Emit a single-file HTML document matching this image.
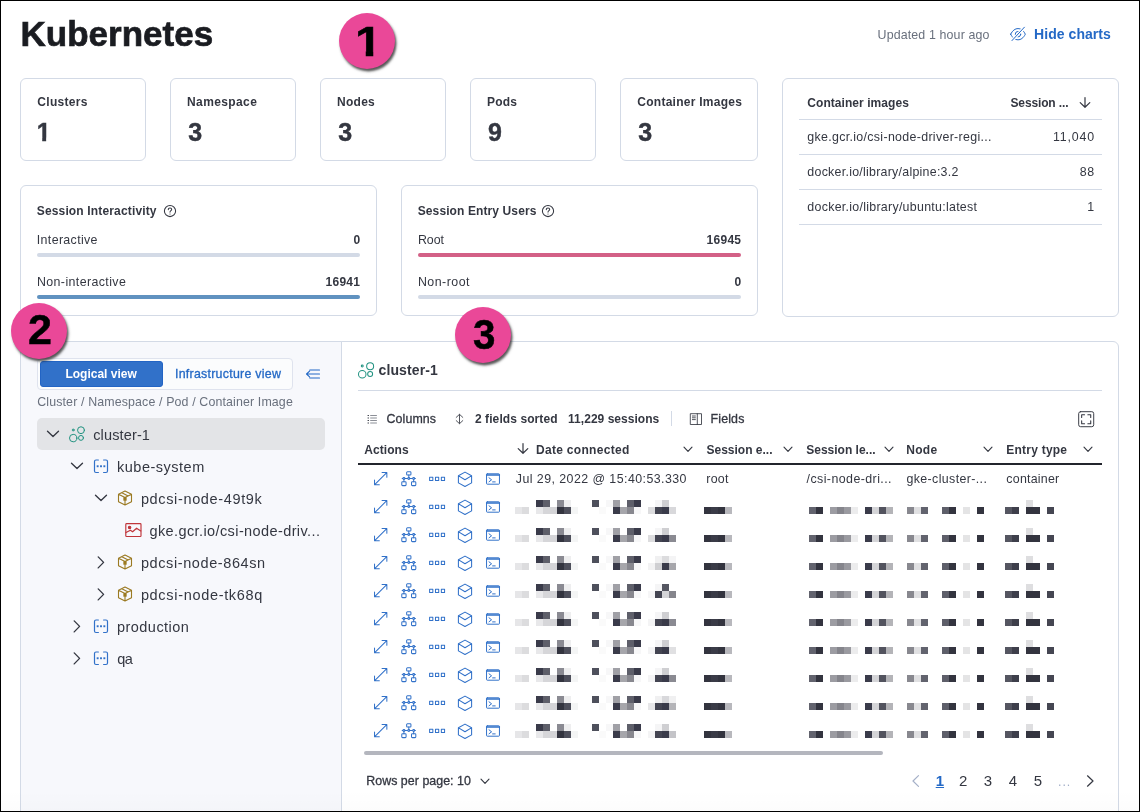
<!DOCTYPE html>
<html lang="en"><head><meta charset="utf-8"><title>Kubernetes</title>
<style>
html,body{margin:0;padding:0}
body{width:1140px;height:812px;position:relative;overflow:hidden;background:#fff;font-family:"Liberation Sans",sans-serif;}
.b,.i,.t,.bd{position:absolute}
.t{line-height:1;white-space:nowrap}
.i{overflow:visible}
.bd{width:56px;height:56px;border-radius:50%;background:#ea4898;box-shadow:1.5px 2.5px 2.5px rgba(30,30,30,.75);color:#000;font-weight:700;font-size:42px;}
.dg{-webkit-text-stroke:0.5px #000;position:absolute;display:block;line-height:1;height:1em;transform-origin:0 0}
.one{clip-path:polygon(0 0,100% 0,100% 71.5%,68% 71.5%,68% 100%,40% 100%,40% 71.5%,0 71.5%)}
#frame{position:absolute;left:0;top:0;width:1140px;height:812px;box-sizing:border-box;border:1px solid #000;}
#fade{position:absolute;left:1px;top:790px;width:1138px;height:21px;background:linear-gradient(rgba(0,0,0,0),rgba(0,0,0,.012));}
</style></head>
<body>
<div class="b" style="left:20px;top:78px;width:126px;height:83px;background:#fff;border:1px solid #d3dae6;box-sizing:border-box;border-radius:6px;"></div>
<div class="b" style="left:170px;top:78px;width:126px;height:83px;background:#fff;border:1px solid #d3dae6;box-sizing:border-box;border-radius:6px;"></div>
<div class="b" style="left:320px;top:78px;width:126px;height:83px;background:#fff;border:1px solid #d3dae6;box-sizing:border-box;border-radius:6px;"></div>
<div class="b" style="left:470px;top:78px;width:126px;height:83px;background:#fff;border:1px solid #d3dae6;box-sizing:border-box;border-radius:6px;"></div>
<div class="b" style="left:620px;top:78px;width:138px;height:83px;background:#fff;border:1px solid #d3dae6;box-sizing:border-box;border-radius:6px;"></div>
<div class="b" style="left:20px;top:185px;width:357px;height:131px;background:#fff;border:1px solid #d3dae6;box-sizing:border-box;border-radius:6px;"></div>
<div class="b" style="left:37px;top:253px;width:323px;height:4px;background:#d3dae6;border-radius:2px;"></div>
<div class="b" style="left:37px;top:295px;width:323px;height:4px;background:#6092c0;border-radius:2px;"></div>
<div class="b" style="left:401px;top:185px;width:357px;height:131px;background:#fff;border:1px solid #d3dae6;box-sizing:border-box;border-radius:6px;"></div>
<div class="b" style="left:418px;top:253px;width:323px;height:4px;background:#d36086;border-radius:2px;"></div>
<div class="b" style="left:418px;top:295px;width:323px;height:4px;background:#d3dae6;border-radius:2px;"></div>
<div class="b" style="left:782px;top:78px;width:337px;height:239px;background:#fff;border:1px solid #d3dae6;box-sizing:border-box;border-radius:6px;"></div>
<div class="b" style="left:799px;top:119px;width:303px;height:1px;background:#d3dae6;"></div>
<div class="b" style="left:799px;top:154px;width:303px;height:1px;background:#d3dae6;"></div>
<div class="b" style="left:799px;top:189px;width:303px;height:1px;background:#d3dae6;"></div>
<div class="b" style="left:799px;top:224px;width:303px;height:1px;background:#d3dae6;"></div>
<div class="b" style="left:20px;top:341px;width:322px;height:489px;background:#f7f8fc;border:1px solid #d3dae6;box-sizing:border-box;"></div>
<div class="b" style="left:341px;top:341px;width:778px;height:489px;background:#fff;border:1px solid #d3dae6;box-sizing:border-box;border-top-right-radius:6px;"></div>
<div class="b" style="left:37px;top:358px;width:256px;height:32px;background:#fbfcfd;border:1px solid #dfe3ee;box-sizing:border-box;border-radius:4px;"></div>
<div class="b" style="left:40px;top:361px;width:123px;height:26px;background:#3171c9;border:1px solid #2264c4;box-sizing:border-box;border-radius:3px;"></div>
<div class="b" style="left:37px;top:418px;width:288px;height:32px;background:#e3e4e7;border-radius:5px;"></div>
<div class="b" style="left:358px;top:390px;width:744px;height:1px;background:#d3dae6;"></div>
<div class="b" style="left:671px;top:411px;width:1px;height:15px;background:#d3dae6;"></div>
<div class="b" style="left:358px;top:463px;width:744px;height:2px;background:#23252d;"></div>
<svg class="i" style="left:0;top:0" width="1140" height="812" shape-rendering="crispEdges"><rect x="536" y="500" width="7" height="7" fill="#3a3b4a"/><rect x="543" y="500" width="7" height="7" fill="#5e5f6a"/><rect x="557" y="500" width="7" height="7" fill="#8a8a92"/><rect x="564" y="500" width="7" height="7" fill="#eeeeef"/><rect x="592" y="500" width="7" height="7" fill="#4e505c"/><rect x="606" y="500" width="7" height="7" fill="#f7f7f8"/><rect x="613" y="500" width="7" height="7" fill="#a0a0a6"/><rect x="627" y="500" width="7" height="7" fill="#5e5f6a"/><rect x="634" y="500" width="7" height="7" fill="#3a3b4a"/><rect x="1026" y="500" width="7" height="7" fill="#dedee0"/><rect x="655" y="500" width="7" height="7" fill="#f5f5f6"/><rect x="662" y="500" width="7" height="7" fill="#cfcfd2"/><rect x="515" y="507" width="7" height="7" fill="#e6e6e8"/><rect x="522" y="507" width="7" height="7" fill="#dcdcde"/><rect x="536" y="507" width="7" height="7" fill="#e8e8ea"/><rect x="543" y="507" width="7" height="7" fill="#d6d6d9"/><rect x="550" y="507" width="7" height="7" fill="#d4d4d7"/><rect x="557" y="507" width="7" height="7" fill="#33343f"/><rect x="564" y="507" width="7" height="7" fill="#4e4f5b"/><rect x="571" y="507" width="7" height="7" fill="#f4f5f5"/><rect x="599" y="507" width="7" height="7" fill="#fafafa"/><rect x="613" y="507" width="7" height="7" fill="#3a3b4a"/><rect x="620" y="507" width="7" height="7" fill="#a6a6ab"/><rect x="627" y="507" width="7" height="7" fill="#88888f"/><rect x="634" y="507" width="7" height="7" fill="#f7f7f8"/><rect x="704" y="507" width="7" height="7" fill="#33343f"/><rect x="711" y="507" width="7" height="7" fill="#3a3b47"/><rect x="718" y="507" width="7" height="7" fill="#33343f"/><rect x="725" y="507" width="7" height="7" fill="#b8b8bd"/><rect x="809" y="507" width="7" height="7" fill="#62636e"/><rect x="816" y="507" width="7" height="7" fill="#33343f"/><rect x="830" y="507" width="7" height="7" fill="#9c9ca2"/><rect x="837" y="507" width="7" height="7" fill="#85858c"/><rect x="844" y="507" width="7" height="7" fill="#9a9aa0"/><rect x="851" y="507" width="7" height="7" fill="#ececed"/><rect x="865" y="507" width="7" height="7" fill="#3a3b4a"/><rect x="872" y="507" width="7" height="7" fill="#d4d4d7"/><rect x="879" y="507" width="7" height="7" fill="#52535e"/><rect x="886" y="507" width="7" height="7" fill="#b4b4b8"/><rect x="907" y="507" width="7" height="7" fill="#88888f"/><rect x="914" y="507" width="7" height="7" fill="#e0e0e2"/><rect x="921" y="507" width="7" height="7" fill="#62636e"/><rect x="942" y="507" width="7" height="7" fill="#5e5f6a"/><rect x="949" y="507" width="7" height="7" fill="#33343f"/><rect x="963" y="507" width="7" height="7" fill="#e4e4e5"/><rect x="977" y="507" width="7" height="7" fill="#33343f"/><rect x="1005" y="507" width="7" height="7" fill="#555661"/><rect x="1012" y="507" width="7" height="7" fill="#3e3f4b"/><rect x="1026" y="507" width="7" height="7" fill="#33343f"/><rect x="1033" y="507" width="7" height="7" fill="#33343f"/><rect x="1047" y="507" width="7" height="7" fill="#454652"/><rect x="648" y="507" width="7" height="7" fill="#dcdcde"/><rect x="655" y="507" width="7" height="7" fill="#444552"/><rect x="662" y="507" width="7" height="7" fill="#3a3b4a"/><rect x="669" y="507" width="7" height="7" fill="#d8d8db"/><rect x="536" y="528" width="7" height="7" fill="#3a3b4a"/><rect x="543" y="528" width="7" height="7" fill="#5e5f6a"/><rect x="557" y="528" width="7" height="7" fill="#8a8a92"/><rect x="564" y="528" width="7" height="7" fill="#eeeeef"/><rect x="592" y="528" width="7" height="7" fill="#4e505c"/><rect x="606" y="528" width="7" height="7" fill="#f7f7f8"/><rect x="613" y="528" width="7" height="7" fill="#a0a0a6"/><rect x="627" y="528" width="7" height="7" fill="#5e5f6a"/><rect x="634" y="528" width="7" height="7" fill="#3a3b4a"/><rect x="1026" y="528" width="7" height="7" fill="#dedee0"/><rect x="655" y="528" width="7" height="7" fill="#f5f5f6"/><rect x="662" y="528" width="7" height="7" fill="#cfcfd2"/><rect x="515" y="535" width="7" height="7" fill="#e6e6e8"/><rect x="522" y="535" width="7" height="7" fill="#dcdcde"/><rect x="536" y="535" width="7" height="7" fill="#e8e8ea"/><rect x="543" y="535" width="7" height="7" fill="#d6d6d9"/><rect x="550" y="535" width="7" height="7" fill="#d4d4d7"/><rect x="557" y="535" width="7" height="7" fill="#33343f"/><rect x="564" y="535" width="7" height="7" fill="#4e4f5b"/><rect x="571" y="535" width="7" height="7" fill="#f4f5f5"/><rect x="599" y="535" width="7" height="7" fill="#fafafa"/><rect x="613" y="535" width="7" height="7" fill="#3a3b4a"/><rect x="620" y="535" width="7" height="7" fill="#a6a6ab"/><rect x="627" y="535" width="7" height="7" fill="#88888f"/><rect x="634" y="535" width="7" height="7" fill="#f7f7f8"/><rect x="704" y="535" width="7" height="7" fill="#33343f"/><rect x="711" y="535" width="7" height="7" fill="#3a3b47"/><rect x="718" y="535" width="7" height="7" fill="#33343f"/><rect x="725" y="535" width="7" height="7" fill="#b8b8bd"/><rect x="809" y="535" width="7" height="7" fill="#62636e"/><rect x="816" y="535" width="7" height="7" fill="#33343f"/><rect x="830" y="535" width="7" height="7" fill="#9c9ca2"/><rect x="837" y="535" width="7" height="7" fill="#85858c"/><rect x="844" y="535" width="7" height="7" fill="#9a9aa0"/><rect x="851" y="535" width="7" height="7" fill="#ececed"/><rect x="865" y="535" width="7" height="7" fill="#3a3b4a"/><rect x="872" y="535" width="7" height="7" fill="#d4d4d7"/><rect x="879" y="535" width="7" height="7" fill="#52535e"/><rect x="886" y="535" width="7" height="7" fill="#b4b4b8"/><rect x="907" y="535" width="7" height="7" fill="#88888f"/><rect x="914" y="535" width="7" height="7" fill="#e0e0e2"/><rect x="921" y="535" width="7" height="7" fill="#62636e"/><rect x="942" y="535" width="7" height="7" fill="#5e5f6a"/><rect x="949" y="535" width="7" height="7" fill="#33343f"/><rect x="963" y="535" width="7" height="7" fill="#e4e4e5"/><rect x="977" y="535" width="7" height="7" fill="#33343f"/><rect x="1005" y="535" width="7" height="7" fill="#555661"/><rect x="1012" y="535" width="7" height="7" fill="#3e3f4b"/><rect x="1026" y="535" width="7" height="7" fill="#33343f"/><rect x="1033" y="535" width="7" height="7" fill="#33343f"/><rect x="1047" y="535" width="7" height="7" fill="#454652"/><rect x="648" y="535" width="7" height="7" fill="#dcdcde"/><rect x="655" y="535" width="7" height="7" fill="#444552"/><rect x="662" y="535" width="7" height="7" fill="#3a3b4a"/><rect x="669" y="535" width="7" height="7" fill="#8a8a92"/><rect x="536" y="556" width="7" height="7" fill="#3a3b4a"/><rect x="543" y="556" width="7" height="7" fill="#5e5f6a"/><rect x="557" y="556" width="7" height="7" fill="#8a8a92"/><rect x="564" y="556" width="7" height="7" fill="#eeeeef"/><rect x="592" y="556" width="7" height="7" fill="#4e505c"/><rect x="606" y="556" width="7" height="7" fill="#f7f7f8"/><rect x="613" y="556" width="7" height="7" fill="#a0a0a6"/><rect x="627" y="556" width="7" height="7" fill="#5e5f6a"/><rect x="634" y="556" width="7" height="7" fill="#3a3b4a"/><rect x="1026" y="556" width="7" height="7" fill="#dedee0"/><rect x="655" y="556" width="7" height="7" fill="#f0f0f1"/><rect x="662" y="556" width="7" height="7" fill="#dcdcde"/><rect x="669" y="556" width="7" height="7" fill="#f4f4f5"/><rect x="515" y="563" width="7" height="7" fill="#e6e6e8"/><rect x="522" y="563" width="7" height="7" fill="#dcdcde"/><rect x="536" y="563" width="7" height="7" fill="#e8e8ea"/><rect x="543" y="563" width="7" height="7" fill="#d6d6d9"/><rect x="550" y="563" width="7" height="7" fill="#d4d4d7"/><rect x="557" y="563" width="7" height="7" fill="#33343f"/><rect x="564" y="563" width="7" height="7" fill="#4e4f5b"/><rect x="571" y="563" width="7" height="7" fill="#f4f5f5"/><rect x="599" y="563" width="7" height="7" fill="#fafafa"/><rect x="613" y="563" width="7" height="7" fill="#3a3b4a"/><rect x="620" y="563" width="7" height="7" fill="#a6a6ab"/><rect x="627" y="563" width="7" height="7" fill="#88888f"/><rect x="634" y="563" width="7" height="7" fill="#f7f7f8"/><rect x="704" y="563" width="7" height="7" fill="#33343f"/><rect x="711" y="563" width="7" height="7" fill="#3a3b47"/><rect x="718" y="563" width="7" height="7" fill="#33343f"/><rect x="725" y="563" width="7" height="7" fill="#b8b8bd"/><rect x="809" y="563" width="7" height="7" fill="#62636e"/><rect x="816" y="563" width="7" height="7" fill="#33343f"/><rect x="830" y="563" width="7" height="7" fill="#9c9ca2"/><rect x="837" y="563" width="7" height="7" fill="#85858c"/><rect x="844" y="563" width="7" height="7" fill="#9a9aa0"/><rect x="851" y="563" width="7" height="7" fill="#ececed"/><rect x="865" y="563" width="7" height="7" fill="#3a3b4a"/><rect x="872" y="563" width="7" height="7" fill="#d4d4d7"/><rect x="879" y="563" width="7" height="7" fill="#52535e"/><rect x="886" y="563" width="7" height="7" fill="#b4b4b8"/><rect x="907" y="563" width="7" height="7" fill="#88888f"/><rect x="914" y="563" width="7" height="7" fill="#e0e0e2"/><rect x="921" y="563" width="7" height="7" fill="#62636e"/><rect x="942" y="563" width="7" height="7" fill="#5e5f6a"/><rect x="949" y="563" width="7" height="7" fill="#33343f"/><rect x="963" y="563" width="7" height="7" fill="#e4e4e5"/><rect x="977" y="563" width="7" height="7" fill="#33343f"/><rect x="1005" y="563" width="7" height="7" fill="#555661"/><rect x="1012" y="563" width="7" height="7" fill="#3e3f4b"/><rect x="1026" y="563" width="7" height="7" fill="#33343f"/><rect x="1033" y="563" width="7" height="7" fill="#33343f"/><rect x="1047" y="563" width="7" height="7" fill="#454652"/><rect x="648" y="563" width="7" height="7" fill="#f2f2f3"/><rect x="655" y="563" width="7" height="7" fill="#cfcfd2"/><rect x="662" y="563" width="7" height="7" fill="#3a3b4a"/><rect x="669" y="563" width="7" height="7" fill="#a6a6ab"/><rect x="536" y="584" width="7" height="7" fill="#3a3b4a"/><rect x="543" y="584" width="7" height="7" fill="#5e5f6a"/><rect x="557" y="584" width="7" height="7" fill="#8a8a92"/><rect x="564" y="584" width="7" height="7" fill="#eeeeef"/><rect x="592" y="584" width="7" height="7" fill="#4e505c"/><rect x="606" y="584" width="7" height="7" fill="#f7f7f8"/><rect x="613" y="584" width="7" height="7" fill="#a0a0a6"/><rect x="627" y="584" width="7" height="7" fill="#5e5f6a"/><rect x="634" y="584" width="7" height="7" fill="#3a3b4a"/><rect x="1026" y="584" width="7" height="7" fill="#dedee0"/><rect x="655" y="584" width="7" height="7" fill="#f5f5f6"/><rect x="662" y="584" width="7" height="7" fill="#555661"/><rect x="515" y="591" width="7" height="7" fill="#e6e6e8"/><rect x="522" y="591" width="7" height="7" fill="#dcdcde"/><rect x="536" y="591" width="7" height="7" fill="#e8e8ea"/><rect x="543" y="591" width="7" height="7" fill="#d6d6d9"/><rect x="550" y="591" width="7" height="7" fill="#d4d4d7"/><rect x="557" y="591" width="7" height="7" fill="#33343f"/><rect x="564" y="591" width="7" height="7" fill="#4e4f5b"/><rect x="571" y="591" width="7" height="7" fill="#f4f5f5"/><rect x="599" y="591" width="7" height="7" fill="#fafafa"/><rect x="613" y="591" width="7" height="7" fill="#3a3b4a"/><rect x="620" y="591" width="7" height="7" fill="#a6a6ab"/><rect x="627" y="591" width="7" height="7" fill="#88888f"/><rect x="634" y="591" width="7" height="7" fill="#f7f7f8"/><rect x="704" y="591" width="7" height="7" fill="#33343f"/><rect x="711" y="591" width="7" height="7" fill="#3a3b47"/><rect x="718" y="591" width="7" height="7" fill="#33343f"/><rect x="725" y="591" width="7" height="7" fill="#b8b8bd"/><rect x="809" y="591" width="7" height="7" fill="#62636e"/><rect x="816" y="591" width="7" height="7" fill="#33343f"/><rect x="830" y="591" width="7" height="7" fill="#9c9ca2"/><rect x="837" y="591" width="7" height="7" fill="#85858c"/><rect x="844" y="591" width="7" height="7" fill="#9a9aa0"/><rect x="851" y="591" width="7" height="7" fill="#ececed"/><rect x="865" y="591" width="7" height="7" fill="#3a3b4a"/><rect x="872" y="591" width="7" height="7" fill="#d4d4d7"/><rect x="879" y="591" width="7" height="7" fill="#52535e"/><rect x="886" y="591" width="7" height="7" fill="#b4b4b8"/><rect x="907" y="591" width="7" height="7" fill="#88888f"/><rect x="914" y="591" width="7" height="7" fill="#e0e0e2"/><rect x="921" y="591" width="7" height="7" fill="#62636e"/><rect x="942" y="591" width="7" height="7" fill="#5e5f6a"/><rect x="949" y="591" width="7" height="7" fill="#33343f"/><rect x="963" y="591" width="7" height="7" fill="#e4e4e5"/><rect x="977" y="591" width="7" height="7" fill="#33343f"/><rect x="1005" y="591" width="7" height="7" fill="#555661"/><rect x="1012" y="591" width="7" height="7" fill="#3e3f4b"/><rect x="1026" y="591" width="7" height="7" fill="#33343f"/><rect x="1033" y="591" width="7" height="7" fill="#33343f"/><rect x="1047" y="591" width="7" height="7" fill="#454652"/><rect x="648" y="591" width="7" height="7" fill="#f6f6f7"/><rect x="655" y="591" width="7" height="7" fill="#444552"/><rect x="662" y="591" width="7" height="7" fill="#d4d4d7"/><rect x="669" y="591" width="7" height="7" fill="#85858c"/><rect x="536" y="612" width="7" height="7" fill="#3a3b4a"/><rect x="543" y="612" width="7" height="7" fill="#5e5f6a"/><rect x="557" y="612" width="7" height="7" fill="#8a8a92"/><rect x="564" y="612" width="7" height="7" fill="#eeeeef"/><rect x="592" y="612" width="7" height="7" fill="#4e505c"/><rect x="606" y="612" width="7" height="7" fill="#f7f7f8"/><rect x="613" y="612" width="7" height="7" fill="#a0a0a6"/><rect x="627" y="612" width="7" height="7" fill="#5e5f6a"/><rect x="634" y="612" width="7" height="7" fill="#3a3b4a"/><rect x="1026" y="612" width="7" height="7" fill="#dedee0"/><rect x="655" y="612" width="7" height="7" fill="#f5f5f6"/><rect x="662" y="612" width="7" height="7" fill="#cfcfd2"/><rect x="515" y="619" width="7" height="7" fill="#e6e6e8"/><rect x="522" y="619" width="7" height="7" fill="#dcdcde"/><rect x="536" y="619" width="7" height="7" fill="#e8e8ea"/><rect x="543" y="619" width="7" height="7" fill="#d6d6d9"/><rect x="550" y="619" width="7" height="7" fill="#d4d4d7"/><rect x="557" y="619" width="7" height="7" fill="#33343f"/><rect x="564" y="619" width="7" height="7" fill="#4e4f5b"/><rect x="571" y="619" width="7" height="7" fill="#f4f5f5"/><rect x="599" y="619" width="7" height="7" fill="#fafafa"/><rect x="613" y="619" width="7" height="7" fill="#3a3b4a"/><rect x="620" y="619" width="7" height="7" fill="#a6a6ab"/><rect x="627" y="619" width="7" height="7" fill="#88888f"/><rect x="634" y="619" width="7" height="7" fill="#f7f7f8"/><rect x="704" y="619" width="7" height="7" fill="#33343f"/><rect x="711" y="619" width="7" height="7" fill="#3a3b47"/><rect x="718" y="619" width="7" height="7" fill="#33343f"/><rect x="725" y="619" width="7" height="7" fill="#b8b8bd"/><rect x="809" y="619" width="7" height="7" fill="#62636e"/><rect x="816" y="619" width="7" height="7" fill="#33343f"/><rect x="830" y="619" width="7" height="7" fill="#9c9ca2"/><rect x="837" y="619" width="7" height="7" fill="#85858c"/><rect x="844" y="619" width="7" height="7" fill="#9a9aa0"/><rect x="851" y="619" width="7" height="7" fill="#ececed"/><rect x="865" y="619" width="7" height="7" fill="#3a3b4a"/><rect x="872" y="619" width="7" height="7" fill="#d4d4d7"/><rect x="879" y="619" width="7" height="7" fill="#52535e"/><rect x="886" y="619" width="7" height="7" fill="#b4b4b8"/><rect x="907" y="619" width="7" height="7" fill="#88888f"/><rect x="914" y="619" width="7" height="7" fill="#e0e0e2"/><rect x="921" y="619" width="7" height="7" fill="#62636e"/><rect x="942" y="619" width="7" height="7" fill="#5e5f6a"/><rect x="949" y="619" width="7" height="7" fill="#33343f"/><rect x="963" y="619" width="7" height="7" fill="#e4e4e5"/><rect x="977" y="619" width="7" height="7" fill="#33343f"/><rect x="1005" y="619" width="7" height="7" fill="#555661"/><rect x="1012" y="619" width="7" height="7" fill="#3e3f4b"/><rect x="1026" y="619" width="7" height="7" fill="#33343f"/><rect x="1033" y="619" width="7" height="7" fill="#33343f"/><rect x="1047" y="619" width="7" height="7" fill="#454652"/><rect x="648" y="619" width="7" height="7" fill="#f4f4f5"/><rect x="655" y="619" width="7" height="7" fill="#444552"/><rect x="662" y="619" width="7" height="7" fill="#3a3b4a"/><rect x="669" y="619" width="7" height="7" fill="#8a8a92"/><rect x="536" y="640" width="7" height="7" fill="#3a3b4a"/><rect x="543" y="640" width="7" height="7" fill="#5e5f6a"/><rect x="557" y="640" width="7" height="7" fill="#8a8a92"/><rect x="564" y="640" width="7" height="7" fill="#eeeeef"/><rect x="592" y="640" width="7" height="7" fill="#4e505c"/><rect x="606" y="640" width="7" height="7" fill="#f7f7f8"/><rect x="613" y="640" width="7" height="7" fill="#a0a0a6"/><rect x="627" y="640" width="7" height="7" fill="#5e5f6a"/><rect x="634" y="640" width="7" height="7" fill="#3a3b4a"/><rect x="1026" y="640" width="7" height="7" fill="#dedee0"/><rect x="655" y="640" width="7" height="7" fill="#f5f5f6"/><rect x="662" y="640" width="7" height="7" fill="#cfcfd2"/><rect x="515" y="647" width="7" height="7" fill="#e6e6e8"/><rect x="522" y="647" width="7" height="7" fill="#dcdcde"/><rect x="536" y="647" width="7" height="7" fill="#e8e8ea"/><rect x="543" y="647" width="7" height="7" fill="#d6d6d9"/><rect x="550" y="647" width="7" height="7" fill="#d4d4d7"/><rect x="557" y="647" width="7" height="7" fill="#33343f"/><rect x="564" y="647" width="7" height="7" fill="#4e4f5b"/><rect x="571" y="647" width="7" height="7" fill="#f4f5f5"/><rect x="599" y="647" width="7" height="7" fill="#fafafa"/><rect x="613" y="647" width="7" height="7" fill="#3a3b4a"/><rect x="620" y="647" width="7" height="7" fill="#a6a6ab"/><rect x="627" y="647" width="7" height="7" fill="#88888f"/><rect x="634" y="647" width="7" height="7" fill="#f7f7f8"/><rect x="704" y="647" width="7" height="7" fill="#33343f"/><rect x="711" y="647" width="7" height="7" fill="#3a3b47"/><rect x="718" y="647" width="7" height="7" fill="#33343f"/><rect x="725" y="647" width="7" height="7" fill="#b8b8bd"/><rect x="809" y="647" width="7" height="7" fill="#62636e"/><rect x="816" y="647" width="7" height="7" fill="#33343f"/><rect x="830" y="647" width="7" height="7" fill="#9c9ca2"/><rect x="837" y="647" width="7" height="7" fill="#85858c"/><rect x="844" y="647" width="7" height="7" fill="#9a9aa0"/><rect x="851" y="647" width="7" height="7" fill="#ececed"/><rect x="865" y="647" width="7" height="7" fill="#3a3b4a"/><rect x="872" y="647" width="7" height="7" fill="#d4d4d7"/><rect x="879" y="647" width="7" height="7" fill="#52535e"/><rect x="886" y="647" width="7" height="7" fill="#b4b4b8"/><rect x="907" y="647" width="7" height="7" fill="#88888f"/><rect x="914" y="647" width="7" height="7" fill="#e0e0e2"/><rect x="921" y="647" width="7" height="7" fill="#62636e"/><rect x="942" y="647" width="7" height="7" fill="#5e5f6a"/><rect x="949" y="647" width="7" height="7" fill="#33343f"/><rect x="963" y="647" width="7" height="7" fill="#e4e4e5"/><rect x="977" y="647" width="7" height="7" fill="#33343f"/><rect x="1005" y="647" width="7" height="7" fill="#555661"/><rect x="1012" y="647" width="7" height="7" fill="#3e3f4b"/><rect x="1026" y="647" width="7" height="7" fill="#33343f"/><rect x="1033" y="647" width="7" height="7" fill="#33343f"/><rect x="1047" y="647" width="7" height="7" fill="#454652"/><rect x="648" y="647" width="7" height="7" fill="#f4f4f5"/><rect x="655" y="647" width="7" height="7" fill="#444552"/><rect x="662" y="647" width="7" height="7" fill="#3a3b4a"/><rect x="669" y="647" width="7" height="7" fill="#e0e0e2"/><rect x="536" y="668" width="7" height="7" fill="#3a3b4a"/><rect x="543" y="668" width="7" height="7" fill="#5e5f6a"/><rect x="557" y="668" width="7" height="7" fill="#8a8a92"/><rect x="564" y="668" width="7" height="7" fill="#eeeeef"/><rect x="592" y="668" width="7" height="7" fill="#4e505c"/><rect x="606" y="668" width="7" height="7" fill="#f7f7f8"/><rect x="613" y="668" width="7" height="7" fill="#a0a0a6"/><rect x="627" y="668" width="7" height="7" fill="#5e5f6a"/><rect x="634" y="668" width="7" height="7" fill="#3a3b4a"/><rect x="1026" y="668" width="7" height="7" fill="#dedee0"/><rect x="655" y="668" width="7" height="7" fill="#f5f5f6"/><rect x="662" y="668" width="7" height="7" fill="#cfcfd2"/><rect x="515" y="675" width="7" height="7" fill="#e6e6e8"/><rect x="522" y="675" width="7" height="7" fill="#dcdcde"/><rect x="536" y="675" width="7" height="7" fill="#e8e8ea"/><rect x="543" y="675" width="7" height="7" fill="#d6d6d9"/><rect x="550" y="675" width="7" height="7" fill="#d4d4d7"/><rect x="557" y="675" width="7" height="7" fill="#33343f"/><rect x="564" y="675" width="7" height="7" fill="#4e4f5b"/><rect x="571" y="675" width="7" height="7" fill="#f4f5f5"/><rect x="599" y="675" width="7" height="7" fill="#fafafa"/><rect x="613" y="675" width="7" height="7" fill="#3a3b4a"/><rect x="620" y="675" width="7" height="7" fill="#a6a6ab"/><rect x="627" y="675" width="7" height="7" fill="#88888f"/><rect x="634" y="675" width="7" height="7" fill="#f7f7f8"/><rect x="704" y="675" width="7" height="7" fill="#33343f"/><rect x="711" y="675" width="7" height="7" fill="#3a3b47"/><rect x="718" y="675" width="7" height="7" fill="#33343f"/><rect x="725" y="675" width="7" height="7" fill="#b8b8bd"/><rect x="809" y="675" width="7" height="7" fill="#62636e"/><rect x="816" y="675" width="7" height="7" fill="#33343f"/><rect x="830" y="675" width="7" height="7" fill="#9c9ca2"/><rect x="837" y="675" width="7" height="7" fill="#85858c"/><rect x="844" y="675" width="7" height="7" fill="#9a9aa0"/><rect x="851" y="675" width="7" height="7" fill="#ececed"/><rect x="865" y="675" width="7" height="7" fill="#3a3b4a"/><rect x="872" y="675" width="7" height="7" fill="#d4d4d7"/><rect x="879" y="675" width="7" height="7" fill="#52535e"/><rect x="886" y="675" width="7" height="7" fill="#b4b4b8"/><rect x="907" y="675" width="7" height="7" fill="#88888f"/><rect x="914" y="675" width="7" height="7" fill="#e0e0e2"/><rect x="921" y="675" width="7" height="7" fill="#62636e"/><rect x="942" y="675" width="7" height="7" fill="#5e5f6a"/><rect x="949" y="675" width="7" height="7" fill="#33343f"/><rect x="963" y="675" width="7" height="7" fill="#e4e4e5"/><rect x="977" y="675" width="7" height="7" fill="#33343f"/><rect x="1005" y="675" width="7" height="7" fill="#555661"/><rect x="1012" y="675" width="7" height="7" fill="#3e3f4b"/><rect x="1026" y="675" width="7" height="7" fill="#33343f"/><rect x="1033" y="675" width="7" height="7" fill="#33343f"/><rect x="1047" y="675" width="7" height="7" fill="#454652"/><rect x="648" y="675" width="7" height="7" fill="#f4f4f5"/><rect x="655" y="675" width="7" height="7" fill="#444552"/><rect x="662" y="675" width="7" height="7" fill="#3a3b4a"/><rect x="669" y="675" width="7" height="7" fill="#8a8a92"/><rect x="536" y="696" width="7" height="7" fill="#3a3b4a"/><rect x="543" y="696" width="7" height="7" fill="#5e5f6a"/><rect x="557" y="696" width="7" height="7" fill="#8a8a92"/><rect x="564" y="696" width="7" height="7" fill="#eeeeef"/><rect x="592" y="696" width="7" height="7" fill="#4e505c"/><rect x="606" y="696" width="7" height="7" fill="#f7f7f8"/><rect x="613" y="696" width="7" height="7" fill="#a0a0a6"/><rect x="627" y="696" width="7" height="7" fill="#5e5f6a"/><rect x="634" y="696" width="7" height="7" fill="#3a3b4a"/><rect x="1026" y="696" width="7" height="7" fill="#dedee0"/><rect x="655" y="696" width="7" height="7" fill="#f0f0f1"/><rect x="662" y="696" width="7" height="7" fill="#d8d8db"/><rect x="669" y="696" width="7" height="7" fill="#f0f0f1"/><rect x="515" y="703" width="7" height="7" fill="#e6e6e8"/><rect x="522" y="703" width="7" height="7" fill="#dcdcde"/><rect x="536" y="703" width="7" height="7" fill="#e8e8ea"/><rect x="543" y="703" width="7" height="7" fill="#d6d6d9"/><rect x="550" y="703" width="7" height="7" fill="#d4d4d7"/><rect x="557" y="703" width="7" height="7" fill="#33343f"/><rect x="564" y="703" width="7" height="7" fill="#4e4f5b"/><rect x="571" y="703" width="7" height="7" fill="#f4f5f5"/><rect x="599" y="703" width="7" height="7" fill="#fafafa"/><rect x="613" y="703" width="7" height="7" fill="#3a3b4a"/><rect x="620" y="703" width="7" height="7" fill="#a6a6ab"/><rect x="627" y="703" width="7" height="7" fill="#88888f"/><rect x="634" y="703" width="7" height="7" fill="#f7f7f8"/><rect x="704" y="703" width="7" height="7" fill="#33343f"/><rect x="711" y="703" width="7" height="7" fill="#3a3b47"/><rect x="718" y="703" width="7" height="7" fill="#33343f"/><rect x="725" y="703" width="7" height="7" fill="#b8b8bd"/><rect x="809" y="703" width="7" height="7" fill="#62636e"/><rect x="816" y="703" width="7" height="7" fill="#33343f"/><rect x="830" y="703" width="7" height="7" fill="#9c9ca2"/><rect x="837" y="703" width="7" height="7" fill="#85858c"/><rect x="844" y="703" width="7" height="7" fill="#9a9aa0"/><rect x="851" y="703" width="7" height="7" fill="#ececed"/><rect x="865" y="703" width="7" height="7" fill="#3a3b4a"/><rect x="872" y="703" width="7" height="7" fill="#d4d4d7"/><rect x="879" y="703" width="7" height="7" fill="#52535e"/><rect x="886" y="703" width="7" height="7" fill="#b4b4b8"/><rect x="907" y="703" width="7" height="7" fill="#88888f"/><rect x="914" y="703" width="7" height="7" fill="#e0e0e2"/><rect x="921" y="703" width="7" height="7" fill="#62636e"/><rect x="942" y="703" width="7" height="7" fill="#5e5f6a"/><rect x="949" y="703" width="7" height="7" fill="#33343f"/><rect x="963" y="703" width="7" height="7" fill="#e4e4e5"/><rect x="977" y="703" width="7" height="7" fill="#33343f"/><rect x="1005" y="703" width="7" height="7" fill="#555661"/><rect x="1012" y="703" width="7" height="7" fill="#3e3f4b"/><rect x="1026" y="703" width="7" height="7" fill="#33343f"/><rect x="1033" y="703" width="7" height="7" fill="#33343f"/><rect x="1047" y="703" width="7" height="7" fill="#454652"/><rect x="648" y="703" width="7" height="7" fill="#e6e6e8"/><rect x="655" y="703" width="7" height="7" fill="#444552"/><rect x="662" y="703" width="7" height="7" fill="#3a3b4a"/><rect x="669" y="703" width="7" height="7" fill="#b4b4b8"/><rect x="536" y="724" width="7" height="7" fill="#3a3b4a"/><rect x="543" y="724" width="7" height="7" fill="#5e5f6a"/><rect x="557" y="724" width="7" height="7" fill="#8a8a92"/><rect x="564" y="724" width="7" height="7" fill="#eeeeef"/><rect x="592" y="724" width="7" height="7" fill="#4e505c"/><rect x="606" y="724" width="7" height="7" fill="#f7f7f8"/><rect x="613" y="724" width="7" height="7" fill="#a0a0a6"/><rect x="627" y="724" width="7" height="7" fill="#5e5f6a"/><rect x="634" y="724" width="7" height="7" fill="#3a3b4a"/><rect x="1026" y="724" width="7" height="7" fill="#dedee0"/><rect x="655" y="724" width="7" height="7" fill="#f5f5f6"/><rect x="662" y="724" width="7" height="7" fill="#cfcfd2"/><rect x="515" y="731" width="7" height="7" fill="#e6e6e8"/><rect x="522" y="731" width="7" height="7" fill="#dcdcde"/><rect x="536" y="731" width="7" height="7" fill="#e8e8ea"/><rect x="543" y="731" width="7" height="7" fill="#d6d6d9"/><rect x="550" y="731" width="7" height="7" fill="#d4d4d7"/><rect x="557" y="731" width="7" height="7" fill="#33343f"/><rect x="564" y="731" width="7" height="7" fill="#4e4f5b"/><rect x="571" y="731" width="7" height="7" fill="#f4f5f5"/><rect x="599" y="731" width="7" height="7" fill="#fafafa"/><rect x="613" y="731" width="7" height="7" fill="#3a3b4a"/><rect x="620" y="731" width="7" height="7" fill="#a6a6ab"/><rect x="627" y="731" width="7" height="7" fill="#88888f"/><rect x="634" y="731" width="7" height="7" fill="#f7f7f8"/><rect x="704" y="731" width="7" height="7" fill="#33343f"/><rect x="711" y="731" width="7" height="7" fill="#3a3b47"/><rect x="718" y="731" width="7" height="7" fill="#33343f"/><rect x="725" y="731" width="7" height="7" fill="#b8b8bd"/><rect x="809" y="731" width="7" height="7" fill="#62636e"/><rect x="816" y="731" width="7" height="7" fill="#33343f"/><rect x="830" y="731" width="7" height="7" fill="#9c9ca2"/><rect x="837" y="731" width="7" height="7" fill="#85858c"/><rect x="844" y="731" width="7" height="7" fill="#9a9aa0"/><rect x="851" y="731" width="7" height="7" fill="#ececed"/><rect x="865" y="731" width="7" height="7" fill="#3a3b4a"/><rect x="872" y="731" width="7" height="7" fill="#d4d4d7"/><rect x="879" y="731" width="7" height="7" fill="#52535e"/><rect x="886" y="731" width="7" height="7" fill="#b4b4b8"/><rect x="907" y="731" width="7" height="7" fill="#88888f"/><rect x="914" y="731" width="7" height="7" fill="#e0e0e2"/><rect x="921" y="731" width="7" height="7" fill="#62636e"/><rect x="942" y="731" width="7" height="7" fill="#5e5f6a"/><rect x="949" y="731" width="7" height="7" fill="#33343f"/><rect x="963" y="731" width="7" height="7" fill="#e4e4e5"/><rect x="977" y="731" width="7" height="7" fill="#33343f"/><rect x="1005" y="731" width="7" height="7" fill="#555661"/><rect x="1012" y="731" width="7" height="7" fill="#3e3f4b"/><rect x="1026" y="731" width="7" height="7" fill="#33343f"/><rect x="1033" y="731" width="7" height="7" fill="#33343f"/><rect x="1047" y="731" width="7" height="7" fill="#454652"/><rect x="648" y="731" width="7" height="7" fill="#f4f4f5"/><rect x="655" y="731" width="7" height="7" fill="#444552"/><rect x="662" y="731" width="7" height="7" fill="#3a3b4a"/><rect x="669" y="731" width="7" height="7" fill="#c4c4c8"/></svg>
<div class="b" style="left:364px;top:751px;width:519px;height:4px;background:#b4b6be;border-radius:2px;"></div>
<svg class="i" style="left:1010px;top:26px" width="16" height="16" viewBox="0 0 16 16" fill="none" stroke="#2469c6" stroke-width="1" stroke-linecap="round" stroke-linejoin="round" ><path d="M0.7 8.2 C2.6 4.2 5.4 2.6 8 2.6 C10.6 2.6 13.4 4.2 15.3 8.2 C13.4 12.2 10.6 13.8 8 13.8 C5.4 13.8 2.6 12.2 0.7 8.2 Z"/><circle cx="8" cy="8.2" r="2.7"/><path d="M2 15 L14 1.4" stroke="#fff" stroke-width="3"/><path d="M2 14.6 L14.4 1.2"/></svg>
<svg class="i" style="left:163px;top:204px" width="14" height="14" viewBox="0 0 14 14" fill="none" stroke="#343741" stroke-width="1.05" stroke-linecap="round" stroke-linejoin="round" ><circle cx="7" cy="7" r="5.6"/><path d="M5.3 5.6 C5.3 4.5 6 3.9 7 3.9 C8 3.9 8.7 4.5 8.7 5.4 C8.7 6.6 7 6.7 7 8.1" /><circle cx="7" cy="10" r="0.55" fill="#343741" stroke="none"/></svg>
<svg class="i" style="left:541px;top:204px" width="14" height="14" viewBox="0 0 14 14" fill="none" stroke="#343741" stroke-width="1.05" stroke-linecap="round" stroke-linejoin="round" ><circle cx="7" cy="7" r="5.6"/><path d="M5.3 5.6 C5.3 4.5 6 3.9 7 3.9 C8 3.9 8.7 4.5 8.7 5.4 C8.7 6.6 7 6.7 7 8.1" /><circle cx="7" cy="10" r="0.55" fill="#343741" stroke="none"/></svg>
<svg class="i" style="left:1077.4px;top:94.3px" width="16" height="16" viewBox="0 0 16 16" fill="none" stroke="#343741" stroke-width="1.2" stroke-linecap="round" stroke-linejoin="round" ><path d="M8 3.6 V13 M3.2 8.6 L8 13.3 L12.8 8.6"/></svg>
<svg class="i" style="left:305.1px;top:365.5px" width="16" height="16" viewBox="0 0 16 16" fill="none" stroke="#2469c6" stroke-width="1.1" stroke-linecap="round" stroke-linejoin="round" ><path d="M1.6 8 H14.5 M4.6 5.2 L1.5 8 L4.6 10.8 M4.8 4 H14.5 M4.8 12 H14.5"/></svg>
<svg class="i" style="left:45px;top:425.8px" width="16" height="16" viewBox="0 0 16 16" fill="none" stroke="#343741" stroke-width="1.35" stroke-linecap="round" stroke-linejoin="round" ><path d="M2.5 5.2 L8 10.5 L13.5 5.2"/></svg>
<svg class="i" style="left:69px;top:426px" width="16" height="16" viewBox="0 0 16 16" fill="none" stroke="#209280" stroke-width="1.0" stroke-linecap="round" stroke-linejoin="round" ><circle cx="4.2" cy="4" r="0.95"/><circle cx="12" cy="4.2" r="3.45"/><circle cx="4.2" cy="12.1" r="3.7"/><circle cx="12" cy="11.9" r="2.45"/></svg>
<svg class="i" style="left:68.5px;top:457.8px" width="16" height="16" viewBox="0 0 16 16" fill="none" stroke="#343741" stroke-width="1.35" stroke-linecap="round" stroke-linejoin="round" ><path d="M2.5 5.2 L8 10.5 L13.5 5.2"/></svg>
<svg class="i" style="left:93px;top:457.5px" width="16" height="16" viewBox="0 0 16 16" fill="none" stroke="#3171c9" stroke-width="1.2" stroke-linecap="round" stroke-linejoin="round" ><path d="M5.4 2 H3 Q1.5 2 1.5 3.5 V13 Q1.5 14.5 3 14.5 H5.4 M10.6 2 H13 Q14.5 2 14.5 3.5 V13 Q14.5 14.5 13 14.5 H10.6"/><g fill="#3171c9" stroke="none"><rect x="3.7" y="7.3" width="1.9" height="1.9"/><rect x="7.05" y="7.3" width="1.9" height="1.9"/><rect x="10.4" y="7.3" width="1.9" height="1.9"/></g></svg>
<svg class="i" style="left:93px;top:489.8px" width="16" height="16" viewBox="0 0 16 16" fill="none" stroke="#343741" stroke-width="1.35" stroke-linecap="round" stroke-linejoin="round" ><path d="M2.5 5.2 L8 10.5 L13.5 5.2"/></svg>
<svg class="i" style="left:116.95px;top:489.8px" width="16" height="16" viewBox="0 0 16 16" fill="none" stroke="#9b7a22" stroke-width="1.1" stroke-linecap="round" stroke-linejoin="round" ><path d="M8 1.1 L14.5 4.3 V11.7 L8 14.9 L1.5 11.7 V4.3 Z M1.5 4.3 L8 7.5 L14.5 4.3 M8 7.5 V14.9 M4.8 2.7 L11.2 5.9 M6.9 7.2 V10.2 M9.1 7.2 V10.2"/></svg>
<svg class="i" style="left:124.9px;top:521.8px" width="16.4" height="16" viewBox="0 0 16 16" fill="none" stroke="#c0353a" stroke-width="1.15" stroke-linecap="round" stroke-linejoin="round" ><rect x="0.6" y="1.6" width="15.2" height="12.9" rx="0.8"/><circle cx="4.4" cy="5.4" r="1.2" fill="#c0353a"/><path d="M0.8 10.6 L5.2 8.2 L7.4 9.8 L11.4 6.2 L15.6 9"/></svg>
<svg class="i" style="left:93px;top:553.7px" width="16" height="16" viewBox="0 0 16 16" fill="none" stroke="#343741" stroke-width="1.35" stroke-linecap="round" stroke-linejoin="round" ><path d="M5.2 2.9 L10.6 8.4 L5.2 13.9"/></svg>
<svg class="i" style="left:116.95px;top:553.8px" width="16" height="16" viewBox="0 0 16 16" fill="none" stroke="#9b7a22" stroke-width="1.1" stroke-linecap="round" stroke-linejoin="round" ><path d="M8 1.1 L14.5 4.3 V11.7 L8 14.9 L1.5 11.7 V4.3 Z M1.5 4.3 L8 7.5 L14.5 4.3 M8 7.5 V14.9 M4.8 2.7 L11.2 5.9 M6.9 7.2 V10.2 M9.1 7.2 V10.2"/></svg>
<svg class="i" style="left:93px;top:585.7px" width="16" height="16" viewBox="0 0 16 16" fill="none" stroke="#343741" stroke-width="1.35" stroke-linecap="round" stroke-linejoin="round" ><path d="M5.2 2.9 L10.6 8.4 L5.2 13.9"/></svg>
<svg class="i" style="left:116.95px;top:585.8px" width="16" height="16" viewBox="0 0 16 16" fill="none" stroke="#9b7a22" stroke-width="1.1" stroke-linecap="round" stroke-linejoin="round" ><path d="M8 1.1 L14.5 4.3 V11.7 L8 14.9 L1.5 11.7 V4.3 Z M1.5 4.3 L8 7.5 L14.5 4.3 M8 7.5 V14.9 M4.8 2.7 L11.2 5.9 M6.9 7.2 V10.2 M9.1 7.2 V10.2"/></svg>
<svg class="i" style="left:68.5px;top:617.7px" width="16" height="16" viewBox="0 0 16 16" fill="none" stroke="#343741" stroke-width="1.35" stroke-linecap="round" stroke-linejoin="round" ><path d="M5.2 2.9 L10.6 8.4 L5.2 13.9"/></svg>
<svg class="i" style="left:93px;top:617.5px" width="16" height="16" viewBox="0 0 16 16" fill="none" stroke="#3171c9" stroke-width="1.2" stroke-linecap="round" stroke-linejoin="round" ><path d="M5.4 2 H3 Q1.5 2 1.5 3.5 V13 Q1.5 14.5 3 14.5 H5.4 M10.6 2 H13 Q14.5 2 14.5 3.5 V13 Q14.5 14.5 13 14.5 H10.6"/><g fill="#3171c9" stroke="none"><rect x="3.7" y="7.3" width="1.9" height="1.9"/><rect x="7.05" y="7.3" width="1.9" height="1.9"/><rect x="10.4" y="7.3" width="1.9" height="1.9"/></g></svg>
<svg class="i" style="left:68.5px;top:649.7px" width="16" height="16" viewBox="0 0 16 16" fill="none" stroke="#343741" stroke-width="1.35" stroke-linecap="round" stroke-linejoin="round" ><path d="M5.2 2.9 L10.6 8.4 L5.2 13.9"/></svg>
<svg class="i" style="left:93px;top:649.5px" width="16" height="16" viewBox="0 0 16 16" fill="none" stroke="#3171c9" stroke-width="1.2" stroke-linecap="round" stroke-linejoin="round" ><path d="M5.4 2 H3 Q1.5 2 1.5 3.5 V13 Q1.5 14.5 3 14.5 H5.4 M10.6 2 H13 Q14.5 2 14.5 3.5 V13 Q14.5 14.5 13 14.5 H10.6"/><g fill="#3171c9" stroke="none"><rect x="3.7" y="7.3" width="1.9" height="1.9"/><rect x="7.05" y="7.3" width="1.9" height="1.9"/><rect x="10.4" y="7.3" width="1.9" height="1.9"/></g></svg>
<svg class="i" style="left:357.6px;top:362px" width="16.2" height="16.2" viewBox="0 0 16 16" fill="none" stroke="#209280" stroke-width="1.0" stroke-linecap="round" stroke-linejoin="round" ><circle cx="4.2" cy="4" r="0.95"/><circle cx="12" cy="4.2" r="3.45"/><circle cx="4.2" cy="12.1" r="3.7"/><circle cx="12" cy="11.9" r="2.45"/></svg>
<svg class="i" style="left:366.5px;top:413.5px" width="10" height="10" viewBox="0 0 10 10" fill="none" stroke="#343741" stroke-width="0.9" stroke-linecap="round" stroke-linejoin="round" ><path d="M3.6 1.5 H9.5 M3.6 4 H9.5 M3.6 6.5 H9.5 M3.6 9 H9.5" stroke-width="0.7" stroke="#5a5e6a"/><g fill="#343741" stroke="none"><rect x="0.6" y="1" width="1.3" height="1"/><rect x="0.6" y="3.5" width="1.3" height="1"/><rect x="0.6" y="6" width="1.3" height="1"/><rect x="0.6" y="8.5" width="1.3" height="1"/></g></svg>
<svg class="i" style="left:454px;top:412.5px" width="11" height="12" viewBox="0 0 11 12" fill="none" stroke="#343741" stroke-width="0.85" stroke-linecap="round" stroke-linejoin="round" ><path d="M5.5 1.6 V10.4 M2.2 4.4 L5.5 1.3 L8.8 4.4 M2.2 7.6 L5.5 10.7 L8.8 7.6"/></svg>
<svg class="i" style="left:689.7px;top:413px" width="12" height="12" viewBox="0 0 12 12" fill="none" stroke="#343741" stroke-width="0.85" stroke-linecap="round" stroke-linejoin="round" ><rect x="0.7" y="0.7" width="10.8" height="10.8"/><path d="M7.3 0.7 V11.5 M2.4 3 H5.4 M2.4 4.8 H5.4 M2.4 6.6 H5.4" /></svg>
<svg class="i" style="left:1077.6px;top:410.5px" width="16.4" height="16.4" viewBox="0 0 17 17" fill="none" stroke="#343741" stroke-width="1.0" stroke-linecap="round" stroke-linejoin="round" ><rect x="0.7" y="0.7" width="15.6" height="15.6" rx="2"/><path d="M3.8 6.8 V3.8 H6.8 M10.2 3.8 H13.2 V6.8 M13.2 10.2 V13.2 H10.2 M6.8 13.2 H3.8 V10.2" stroke-width="1.1"/></svg>
<svg class="i" style="left:516.3px;top:441.3px" width="14" height="14" viewBox="0 0 14 14" fill="none" stroke="#343741" stroke-width="1.2" stroke-linecap="round" stroke-linejoin="round" ><path d="M7 2.6 V12 M2.2 7.6 L7 12.3 L11.8 7.6"/></svg>
<svg class="i" style="left:682.4000000000001px;top:443px" width="12" height="12" viewBox="0 0 12 12" fill="none" stroke="#343741" stroke-width="1.15" stroke-linecap="round" stroke-linejoin="round" ><path d="M2 4.2 L6 8.3 L10 4.2"/></svg>
<svg class="i" style="left:781.9000000000001px;top:443px" width="12" height="12" viewBox="0 0 12 12" fill="none" stroke="#343741" stroke-width="1.15" stroke-linecap="round" stroke-linejoin="round" ><path d="M2 4.2 L6 8.3 L10 4.2"/></svg>
<svg class="i" style="left:882.7px;top:443px" width="12" height="12" viewBox="0 0 12 12" fill="none" stroke="#343741" stroke-width="1.15" stroke-linecap="round" stroke-linejoin="round" ><path d="M2 4.2 L6 8.3 L10 4.2"/></svg>
<svg class="i" style="left:982.0px;top:443px" width="12" height="12" viewBox="0 0 12 12" fill="none" stroke="#343741" stroke-width="1.15" stroke-linecap="round" stroke-linejoin="round" ><path d="M2 4.2 L6 8.3 L10 4.2"/></svg>
<svg class="i" style="left:1081.6000000000001px;top:443px" width="12" height="12" viewBox="0 0 12 12" fill="none" stroke="#343741" stroke-width="1.15" stroke-linecap="round" stroke-linejoin="round" ><path d="M2 4.2 L6 8.3 L10 4.2"/></svg>
<svg class="i" style="left:373.2px;top:471.3px" width="15.4" height="15.4" viewBox="0 0 16 16" fill="none" stroke="#3171c9" stroke-width="1.05" stroke-linecap="round" stroke-linejoin="round" ><path d="M2 14 L14 2 M9.4 1.6 H14.4 V6.6 M1.6 9.4 V14.4 H6.6"/></svg>
<svg class="i" style="left:400.6px;top:471.3px" width="15.6" height="15.6" viewBox="0 0 16 16" fill="none" stroke="#3171c9" stroke-width="1.05" stroke-linecap="round" stroke-linejoin="round" ><rect x="5.8" y="0.8" width="4.4" height="3.4" rx="0.8"/><path d="M8 4.2 V7.6 M1.2 7.6 H14.8"/><circle cx="3" cy="7.6" r="1" fill="#fff"/><circle cx="8" cy="7.6" r="1" fill="#fff"/><circle cx="13" cy="7.6" r="1" fill="#fff"/><rect x="0.8" y="11" width="4.4" height="4" rx="0.8"/><rect x="10.8" y="11" width="4.4" height="4" rx="0.8"/><path d="M3 8.6 V11 M13 8.6 V11"/></svg>
<svg class="i" style="left:429px;top:471.2px" width="16.2" height="16.2" viewBox="0 0 16 16" fill="none" stroke="#3171c9" stroke-width="1.0" stroke-linecap="round" stroke-linejoin="round" ><rect x="0.6" y="6.2" width="3.2" height="3.2"/><rect x="6.4" y="6.2" width="3.2" height="3.2"/><rect x="12.2" y="6.2" width="3.2" height="3.2"/></svg>
<svg class="i" style="left:457px;top:470.9px" width="16" height="16.6" viewBox="0 0 16 16" fill="none" stroke="#3171c9" stroke-width="1.05" stroke-linecap="round" stroke-linejoin="round" ><path d="M8 0.8 L14.6 4.4 V11.6 L8 15.2 L1.4 11.6 V4.4 Z M1.6 4.6 L8 8.4 L14.4 4.6"/></svg>
<svg class="i" style="left:486.1px;top:472.9px" width="14" height="12" viewBox="0 0 14 12" fill="none" stroke="#3171c9" stroke-width="1.0" stroke-linecap="round" stroke-linejoin="round" ><rect x="0.55" y="0.8" width="12.9" height="10.4" rx="0.7"/><path d="M0.6 1.9 H13.4" stroke-width="1.5"/><path d="M3 4.8 L5.6 6.8 L3 8.8 M6.6 8.9 H9.2"/></svg>
<svg class="i" style="left:373.2px;top:499.3px" width="15.4" height="15.4" viewBox="0 0 16 16" fill="none" stroke="#3171c9" stroke-width="1.05" stroke-linecap="round" stroke-linejoin="round" ><path d="M2 14 L14 2 M9.4 1.6 H14.4 V6.6 M1.6 9.4 V14.4 H6.6"/></svg>
<svg class="i" style="left:400.6px;top:499.3px" width="15.6" height="15.6" viewBox="0 0 16 16" fill="none" stroke="#3171c9" stroke-width="1.05" stroke-linecap="round" stroke-linejoin="round" ><rect x="5.8" y="0.8" width="4.4" height="3.4" rx="0.8"/><path d="M8 4.2 V7.6 M1.2 7.6 H14.8"/><circle cx="3" cy="7.6" r="1" fill="#fff"/><circle cx="8" cy="7.6" r="1" fill="#fff"/><circle cx="13" cy="7.6" r="1" fill="#fff"/><rect x="0.8" y="11" width="4.4" height="4" rx="0.8"/><rect x="10.8" y="11" width="4.4" height="4" rx="0.8"/><path d="M3 8.6 V11 M13 8.6 V11"/></svg>
<svg class="i" style="left:429px;top:499.2px" width="16.2" height="16.2" viewBox="0 0 16 16" fill="none" stroke="#3171c9" stroke-width="1.0" stroke-linecap="round" stroke-linejoin="round" ><rect x="0.6" y="6.2" width="3.2" height="3.2"/><rect x="6.4" y="6.2" width="3.2" height="3.2"/><rect x="12.2" y="6.2" width="3.2" height="3.2"/></svg>
<svg class="i" style="left:457px;top:498.9px" width="16" height="16.6" viewBox="0 0 16 16" fill="none" stroke="#3171c9" stroke-width="1.05" stroke-linecap="round" stroke-linejoin="round" ><path d="M8 0.8 L14.6 4.4 V11.6 L8 15.2 L1.4 11.6 V4.4 Z M1.6 4.6 L8 8.4 L14.4 4.6"/></svg>
<svg class="i" style="left:486.1px;top:500.9px" width="14" height="12" viewBox="0 0 14 12" fill="none" stroke="#3171c9" stroke-width="1.0" stroke-linecap="round" stroke-linejoin="round" ><rect x="0.55" y="0.8" width="12.9" height="10.4" rx="0.7"/><path d="M0.6 1.9 H13.4" stroke-width="1.5"/><path d="M3 4.8 L5.6 6.8 L3 8.8 M6.6 8.9 H9.2"/></svg>
<svg class="i" style="left:373.2px;top:527.3px" width="15.4" height="15.4" viewBox="0 0 16 16" fill="none" stroke="#3171c9" stroke-width="1.05" stroke-linecap="round" stroke-linejoin="round" ><path d="M2 14 L14 2 M9.4 1.6 H14.4 V6.6 M1.6 9.4 V14.4 H6.6"/></svg>
<svg class="i" style="left:400.6px;top:527.3px" width="15.6" height="15.6" viewBox="0 0 16 16" fill="none" stroke="#3171c9" stroke-width="1.05" stroke-linecap="round" stroke-linejoin="round" ><rect x="5.8" y="0.8" width="4.4" height="3.4" rx="0.8"/><path d="M8 4.2 V7.6 M1.2 7.6 H14.8"/><circle cx="3" cy="7.6" r="1" fill="#fff"/><circle cx="8" cy="7.6" r="1" fill="#fff"/><circle cx="13" cy="7.6" r="1" fill="#fff"/><rect x="0.8" y="11" width="4.4" height="4" rx="0.8"/><rect x="10.8" y="11" width="4.4" height="4" rx="0.8"/><path d="M3 8.6 V11 M13 8.6 V11"/></svg>
<svg class="i" style="left:429px;top:527.2px" width="16.2" height="16.2" viewBox="0 0 16 16" fill="none" stroke="#3171c9" stroke-width="1.0" stroke-linecap="round" stroke-linejoin="round" ><rect x="0.6" y="6.2" width="3.2" height="3.2"/><rect x="6.4" y="6.2" width="3.2" height="3.2"/><rect x="12.2" y="6.2" width="3.2" height="3.2"/></svg>
<svg class="i" style="left:457px;top:526.9px" width="16" height="16.6" viewBox="0 0 16 16" fill="none" stroke="#3171c9" stroke-width="1.05" stroke-linecap="round" stroke-linejoin="round" ><path d="M8 0.8 L14.6 4.4 V11.6 L8 15.2 L1.4 11.6 V4.4 Z M1.6 4.6 L8 8.4 L14.4 4.6"/></svg>
<svg class="i" style="left:486.1px;top:528.9px" width="14" height="12" viewBox="0 0 14 12" fill="none" stroke="#3171c9" stroke-width="1.0" stroke-linecap="round" stroke-linejoin="round" ><rect x="0.55" y="0.8" width="12.9" height="10.4" rx="0.7"/><path d="M0.6 1.9 H13.4" stroke-width="1.5"/><path d="M3 4.8 L5.6 6.8 L3 8.8 M6.6 8.9 H9.2"/></svg>
<svg class="i" style="left:373.2px;top:555.3px" width="15.4" height="15.4" viewBox="0 0 16 16" fill="none" stroke="#3171c9" stroke-width="1.05" stroke-linecap="round" stroke-linejoin="round" ><path d="M2 14 L14 2 M9.4 1.6 H14.4 V6.6 M1.6 9.4 V14.4 H6.6"/></svg>
<svg class="i" style="left:400.6px;top:555.3px" width="15.6" height="15.6" viewBox="0 0 16 16" fill="none" stroke="#3171c9" stroke-width="1.05" stroke-linecap="round" stroke-linejoin="round" ><rect x="5.8" y="0.8" width="4.4" height="3.4" rx="0.8"/><path d="M8 4.2 V7.6 M1.2 7.6 H14.8"/><circle cx="3" cy="7.6" r="1" fill="#fff"/><circle cx="8" cy="7.6" r="1" fill="#fff"/><circle cx="13" cy="7.6" r="1" fill="#fff"/><rect x="0.8" y="11" width="4.4" height="4" rx="0.8"/><rect x="10.8" y="11" width="4.4" height="4" rx="0.8"/><path d="M3 8.6 V11 M13 8.6 V11"/></svg>
<svg class="i" style="left:429px;top:555.2px" width="16.2" height="16.2" viewBox="0 0 16 16" fill="none" stroke="#3171c9" stroke-width="1.0" stroke-linecap="round" stroke-linejoin="round" ><rect x="0.6" y="6.2" width="3.2" height="3.2"/><rect x="6.4" y="6.2" width="3.2" height="3.2"/><rect x="12.2" y="6.2" width="3.2" height="3.2"/></svg>
<svg class="i" style="left:457px;top:554.9px" width="16" height="16.6" viewBox="0 0 16 16" fill="none" stroke="#3171c9" stroke-width="1.05" stroke-linecap="round" stroke-linejoin="round" ><path d="M8 0.8 L14.6 4.4 V11.6 L8 15.2 L1.4 11.6 V4.4 Z M1.6 4.6 L8 8.4 L14.4 4.6"/></svg>
<svg class="i" style="left:486.1px;top:556.9px" width="14" height="12" viewBox="0 0 14 12" fill="none" stroke="#3171c9" stroke-width="1.0" stroke-linecap="round" stroke-linejoin="round" ><rect x="0.55" y="0.8" width="12.9" height="10.4" rx="0.7"/><path d="M0.6 1.9 H13.4" stroke-width="1.5"/><path d="M3 4.8 L5.6 6.8 L3 8.8 M6.6 8.9 H9.2"/></svg>
<svg class="i" style="left:373.2px;top:583.3px" width="15.4" height="15.4" viewBox="0 0 16 16" fill="none" stroke="#3171c9" stroke-width="1.05" stroke-linecap="round" stroke-linejoin="round" ><path d="M2 14 L14 2 M9.4 1.6 H14.4 V6.6 M1.6 9.4 V14.4 H6.6"/></svg>
<svg class="i" style="left:400.6px;top:583.3px" width="15.6" height="15.6" viewBox="0 0 16 16" fill="none" stroke="#3171c9" stroke-width="1.05" stroke-linecap="round" stroke-linejoin="round" ><rect x="5.8" y="0.8" width="4.4" height="3.4" rx="0.8"/><path d="M8 4.2 V7.6 M1.2 7.6 H14.8"/><circle cx="3" cy="7.6" r="1" fill="#fff"/><circle cx="8" cy="7.6" r="1" fill="#fff"/><circle cx="13" cy="7.6" r="1" fill="#fff"/><rect x="0.8" y="11" width="4.4" height="4" rx="0.8"/><rect x="10.8" y="11" width="4.4" height="4" rx="0.8"/><path d="M3 8.6 V11 M13 8.6 V11"/></svg>
<svg class="i" style="left:429px;top:583.2px" width="16.2" height="16.2" viewBox="0 0 16 16" fill="none" stroke="#3171c9" stroke-width="1.0" stroke-linecap="round" stroke-linejoin="round" ><rect x="0.6" y="6.2" width="3.2" height="3.2"/><rect x="6.4" y="6.2" width="3.2" height="3.2"/><rect x="12.2" y="6.2" width="3.2" height="3.2"/></svg>
<svg class="i" style="left:457px;top:582.9px" width="16" height="16.6" viewBox="0 0 16 16" fill="none" stroke="#3171c9" stroke-width="1.05" stroke-linecap="round" stroke-linejoin="round" ><path d="M8 0.8 L14.6 4.4 V11.6 L8 15.2 L1.4 11.6 V4.4 Z M1.6 4.6 L8 8.4 L14.4 4.6"/></svg>
<svg class="i" style="left:486.1px;top:584.9px" width="14" height="12" viewBox="0 0 14 12" fill="none" stroke="#3171c9" stroke-width="1.0" stroke-linecap="round" stroke-linejoin="round" ><rect x="0.55" y="0.8" width="12.9" height="10.4" rx="0.7"/><path d="M0.6 1.9 H13.4" stroke-width="1.5"/><path d="M3 4.8 L5.6 6.8 L3 8.8 M6.6 8.9 H9.2"/></svg>
<svg class="i" style="left:373.2px;top:611.3px" width="15.4" height="15.4" viewBox="0 0 16 16" fill="none" stroke="#3171c9" stroke-width="1.05" stroke-linecap="round" stroke-linejoin="round" ><path d="M2 14 L14 2 M9.4 1.6 H14.4 V6.6 M1.6 9.4 V14.4 H6.6"/></svg>
<svg class="i" style="left:400.6px;top:611.3px" width="15.6" height="15.6" viewBox="0 0 16 16" fill="none" stroke="#3171c9" stroke-width="1.05" stroke-linecap="round" stroke-linejoin="round" ><rect x="5.8" y="0.8" width="4.4" height="3.4" rx="0.8"/><path d="M8 4.2 V7.6 M1.2 7.6 H14.8"/><circle cx="3" cy="7.6" r="1" fill="#fff"/><circle cx="8" cy="7.6" r="1" fill="#fff"/><circle cx="13" cy="7.6" r="1" fill="#fff"/><rect x="0.8" y="11" width="4.4" height="4" rx="0.8"/><rect x="10.8" y="11" width="4.4" height="4" rx="0.8"/><path d="M3 8.6 V11 M13 8.6 V11"/></svg>
<svg class="i" style="left:429px;top:611.2px" width="16.2" height="16.2" viewBox="0 0 16 16" fill="none" stroke="#3171c9" stroke-width="1.0" stroke-linecap="round" stroke-linejoin="round" ><rect x="0.6" y="6.2" width="3.2" height="3.2"/><rect x="6.4" y="6.2" width="3.2" height="3.2"/><rect x="12.2" y="6.2" width="3.2" height="3.2"/></svg>
<svg class="i" style="left:457px;top:610.9px" width="16" height="16.6" viewBox="0 0 16 16" fill="none" stroke="#3171c9" stroke-width="1.05" stroke-linecap="round" stroke-linejoin="round" ><path d="M8 0.8 L14.6 4.4 V11.6 L8 15.2 L1.4 11.6 V4.4 Z M1.6 4.6 L8 8.4 L14.4 4.6"/></svg>
<svg class="i" style="left:486.1px;top:612.9px" width="14" height="12" viewBox="0 0 14 12" fill="none" stroke="#3171c9" stroke-width="1.0" stroke-linecap="round" stroke-linejoin="round" ><rect x="0.55" y="0.8" width="12.9" height="10.4" rx="0.7"/><path d="M0.6 1.9 H13.4" stroke-width="1.5"/><path d="M3 4.8 L5.6 6.8 L3 8.8 M6.6 8.9 H9.2"/></svg>
<svg class="i" style="left:373.2px;top:639.3px" width="15.4" height="15.4" viewBox="0 0 16 16" fill="none" stroke="#3171c9" stroke-width="1.05" stroke-linecap="round" stroke-linejoin="round" ><path d="M2 14 L14 2 M9.4 1.6 H14.4 V6.6 M1.6 9.4 V14.4 H6.6"/></svg>
<svg class="i" style="left:400.6px;top:639.3px" width="15.6" height="15.6" viewBox="0 0 16 16" fill="none" stroke="#3171c9" stroke-width="1.05" stroke-linecap="round" stroke-linejoin="round" ><rect x="5.8" y="0.8" width="4.4" height="3.4" rx="0.8"/><path d="M8 4.2 V7.6 M1.2 7.6 H14.8"/><circle cx="3" cy="7.6" r="1" fill="#fff"/><circle cx="8" cy="7.6" r="1" fill="#fff"/><circle cx="13" cy="7.6" r="1" fill="#fff"/><rect x="0.8" y="11" width="4.4" height="4" rx="0.8"/><rect x="10.8" y="11" width="4.4" height="4" rx="0.8"/><path d="M3 8.6 V11 M13 8.6 V11"/></svg>
<svg class="i" style="left:429px;top:639.2px" width="16.2" height="16.2" viewBox="0 0 16 16" fill="none" stroke="#3171c9" stroke-width="1.0" stroke-linecap="round" stroke-linejoin="round" ><rect x="0.6" y="6.2" width="3.2" height="3.2"/><rect x="6.4" y="6.2" width="3.2" height="3.2"/><rect x="12.2" y="6.2" width="3.2" height="3.2"/></svg>
<svg class="i" style="left:457px;top:638.9px" width="16" height="16.6" viewBox="0 0 16 16" fill="none" stroke="#3171c9" stroke-width="1.05" stroke-linecap="round" stroke-linejoin="round" ><path d="M8 0.8 L14.6 4.4 V11.6 L8 15.2 L1.4 11.6 V4.4 Z M1.6 4.6 L8 8.4 L14.4 4.6"/></svg>
<svg class="i" style="left:486.1px;top:640.9px" width="14" height="12" viewBox="0 0 14 12" fill="none" stroke="#3171c9" stroke-width="1.0" stroke-linecap="round" stroke-linejoin="round" ><rect x="0.55" y="0.8" width="12.9" height="10.4" rx="0.7"/><path d="M0.6 1.9 H13.4" stroke-width="1.5"/><path d="M3 4.8 L5.6 6.8 L3 8.8 M6.6 8.9 H9.2"/></svg>
<svg class="i" style="left:373.2px;top:667.3px" width="15.4" height="15.4" viewBox="0 0 16 16" fill="none" stroke="#3171c9" stroke-width="1.05" stroke-linecap="round" stroke-linejoin="round" ><path d="M2 14 L14 2 M9.4 1.6 H14.4 V6.6 M1.6 9.4 V14.4 H6.6"/></svg>
<svg class="i" style="left:400.6px;top:667.3px" width="15.6" height="15.6" viewBox="0 0 16 16" fill="none" stroke="#3171c9" stroke-width="1.05" stroke-linecap="round" stroke-linejoin="round" ><rect x="5.8" y="0.8" width="4.4" height="3.4" rx="0.8"/><path d="M8 4.2 V7.6 M1.2 7.6 H14.8"/><circle cx="3" cy="7.6" r="1" fill="#fff"/><circle cx="8" cy="7.6" r="1" fill="#fff"/><circle cx="13" cy="7.6" r="1" fill="#fff"/><rect x="0.8" y="11" width="4.4" height="4" rx="0.8"/><rect x="10.8" y="11" width="4.4" height="4" rx="0.8"/><path d="M3 8.6 V11 M13 8.6 V11"/></svg>
<svg class="i" style="left:429px;top:667.2px" width="16.2" height="16.2" viewBox="0 0 16 16" fill="none" stroke="#3171c9" stroke-width="1.0" stroke-linecap="round" stroke-linejoin="round" ><rect x="0.6" y="6.2" width="3.2" height="3.2"/><rect x="6.4" y="6.2" width="3.2" height="3.2"/><rect x="12.2" y="6.2" width="3.2" height="3.2"/></svg>
<svg class="i" style="left:457px;top:666.9px" width="16" height="16.6" viewBox="0 0 16 16" fill="none" stroke="#3171c9" stroke-width="1.05" stroke-linecap="round" stroke-linejoin="round" ><path d="M8 0.8 L14.6 4.4 V11.6 L8 15.2 L1.4 11.6 V4.4 Z M1.6 4.6 L8 8.4 L14.4 4.6"/></svg>
<svg class="i" style="left:486.1px;top:668.9px" width="14" height="12" viewBox="0 0 14 12" fill="none" stroke="#3171c9" stroke-width="1.0" stroke-linecap="round" stroke-linejoin="round" ><rect x="0.55" y="0.8" width="12.9" height="10.4" rx="0.7"/><path d="M0.6 1.9 H13.4" stroke-width="1.5"/><path d="M3 4.8 L5.6 6.8 L3 8.8 M6.6 8.9 H9.2"/></svg>
<svg class="i" style="left:373.2px;top:695.3px" width="15.4" height="15.4" viewBox="0 0 16 16" fill="none" stroke="#3171c9" stroke-width="1.05" stroke-linecap="round" stroke-linejoin="round" ><path d="M2 14 L14 2 M9.4 1.6 H14.4 V6.6 M1.6 9.4 V14.4 H6.6"/></svg>
<svg class="i" style="left:400.6px;top:695.3px" width="15.6" height="15.6" viewBox="0 0 16 16" fill="none" stroke="#3171c9" stroke-width="1.05" stroke-linecap="round" stroke-linejoin="round" ><rect x="5.8" y="0.8" width="4.4" height="3.4" rx="0.8"/><path d="M8 4.2 V7.6 M1.2 7.6 H14.8"/><circle cx="3" cy="7.6" r="1" fill="#fff"/><circle cx="8" cy="7.6" r="1" fill="#fff"/><circle cx="13" cy="7.6" r="1" fill="#fff"/><rect x="0.8" y="11" width="4.4" height="4" rx="0.8"/><rect x="10.8" y="11" width="4.4" height="4" rx="0.8"/><path d="M3 8.6 V11 M13 8.6 V11"/></svg>
<svg class="i" style="left:429px;top:695.2px" width="16.2" height="16.2" viewBox="0 0 16 16" fill="none" stroke="#3171c9" stroke-width="1.0" stroke-linecap="round" stroke-linejoin="round" ><rect x="0.6" y="6.2" width="3.2" height="3.2"/><rect x="6.4" y="6.2" width="3.2" height="3.2"/><rect x="12.2" y="6.2" width="3.2" height="3.2"/></svg>
<svg class="i" style="left:457px;top:694.9px" width="16" height="16.6" viewBox="0 0 16 16" fill="none" stroke="#3171c9" stroke-width="1.05" stroke-linecap="round" stroke-linejoin="round" ><path d="M8 0.8 L14.6 4.4 V11.6 L8 15.2 L1.4 11.6 V4.4 Z M1.6 4.6 L8 8.4 L14.4 4.6"/></svg>
<svg class="i" style="left:486.1px;top:696.9px" width="14" height="12" viewBox="0 0 14 12" fill="none" stroke="#3171c9" stroke-width="1.0" stroke-linecap="round" stroke-linejoin="round" ><rect x="0.55" y="0.8" width="12.9" height="10.4" rx="0.7"/><path d="M0.6 1.9 H13.4" stroke-width="1.5"/><path d="M3 4.8 L5.6 6.8 L3 8.8 M6.6 8.9 H9.2"/></svg>
<svg class="i" style="left:373.2px;top:723.3px" width="15.4" height="15.4" viewBox="0 0 16 16" fill="none" stroke="#3171c9" stroke-width="1.05" stroke-linecap="round" stroke-linejoin="round" ><path d="M2 14 L14 2 M9.4 1.6 H14.4 V6.6 M1.6 9.4 V14.4 H6.6"/></svg>
<svg class="i" style="left:400.6px;top:723.3px" width="15.6" height="15.6" viewBox="0 0 16 16" fill="none" stroke="#3171c9" stroke-width="1.05" stroke-linecap="round" stroke-linejoin="round" ><rect x="5.8" y="0.8" width="4.4" height="3.4" rx="0.8"/><path d="M8 4.2 V7.6 M1.2 7.6 H14.8"/><circle cx="3" cy="7.6" r="1" fill="#fff"/><circle cx="8" cy="7.6" r="1" fill="#fff"/><circle cx="13" cy="7.6" r="1" fill="#fff"/><rect x="0.8" y="11" width="4.4" height="4" rx="0.8"/><rect x="10.8" y="11" width="4.4" height="4" rx="0.8"/><path d="M3 8.6 V11 M13 8.6 V11"/></svg>
<svg class="i" style="left:429px;top:723.2px" width="16.2" height="16.2" viewBox="0 0 16 16" fill="none" stroke="#3171c9" stroke-width="1.0" stroke-linecap="round" stroke-linejoin="round" ><rect x="0.6" y="6.2" width="3.2" height="3.2"/><rect x="6.4" y="6.2" width="3.2" height="3.2"/><rect x="12.2" y="6.2" width="3.2" height="3.2"/></svg>
<svg class="i" style="left:457px;top:722.9px" width="16" height="16.6" viewBox="0 0 16 16" fill="none" stroke="#3171c9" stroke-width="1.05" stroke-linecap="round" stroke-linejoin="round" ><path d="M8 0.8 L14.6 4.4 V11.6 L8 15.2 L1.4 11.6 V4.4 Z M1.6 4.6 L8 8.4 L14.4 4.6"/></svg>
<svg class="i" style="left:486.1px;top:724.9px" width="14" height="12" viewBox="0 0 14 12" fill="none" stroke="#3171c9" stroke-width="1.0" stroke-linecap="round" stroke-linejoin="round" ><rect x="0.55" y="0.8" width="12.9" height="10.4" rx="0.7"/><path d="M0.6 1.9 H13.4" stroke-width="1.5"/><path d="M3 4.8 L5.6 6.8 L3 8.8 M6.6 8.9 H9.2"/></svg>
<svg class="i" style="left:479.2px;top:775px" width="12" height="12" viewBox="0 0 12 12" fill="none" stroke="#343741" stroke-width="1.15" stroke-linecap="round" stroke-linejoin="round" ><path d="M2 4.2 L6 8.3 L10 4.2"/></svg>
<svg class="i" style="left:909.2px;top:774.2px" width="14" height="14" viewBox="0 0 14 14" fill="none" stroke="#a5b0c8" stroke-width="1.2" stroke-linecap="round" stroke-linejoin="round" ><path d="M9.5 1.6 L4 7 L9.5 12.4"/></svg>
<svg class="i" style="left:1083px;top:774px" width="14" height="14" viewBox="0 0 14 14" fill="none" stroke="#343741" stroke-width="1.2" stroke-linecap="round" stroke-linejoin="round" ><path d="M4.5 1.8 L10 7 L4.5 12.2"/></svg>
<span class="t" id="t0" style="top:16.37px;font-size:35px;color:#1a1c21;font-weight:700;letter-spacing:-0.002px;left:20.59px;-webkit-text-stroke:0.7px #1a1c21;">Kubernetes</span>
<span class="t" id="t1" style="top:28.50px;font-size:12.4px;color:#69707d;letter-spacing:0.138px;left:877.57px;">Updated 1 hour ago</span>
<span class="t" id="t2" style="top:27.15px;font-size:14px;color:#2469c6;font-weight:700;letter-spacing:0.056px;left:1034.05px;">Hide charts</span>
<span class="t" id="t3" style="top:95.84px;font-size:12px;color:#343741;font-weight:700;letter-spacing:0.296px;left:37.35px;">Clusters</span>
<span class="t" id="t4" style="top:119.84px;font-size:25px;color:#343741;font-weight:700;left:36.68px;-webkit-text-stroke:0.45px #343741;clip-path:polygon(0 0,100% 0,100% 71.5%,68% 71.5%,68% 100%,40% 100%,40% 71.5%,0 71.5%);">1</span>
<span class="t" id="t5" style="top:95.84px;font-size:12px;color:#343741;font-weight:700;letter-spacing:0.380px;left:187.07px;">Namespace</span>
<span class="t" id="t6" style="top:119.84px;font-size:25px;color:#343741;font-weight:700;left:188.33px;-webkit-text-stroke:0.45px #343741;">3</span>
<span class="t" id="t7" style="top:95.84px;font-size:12px;color:#343741;font-weight:700;letter-spacing:0.264px;left:337.07px;">Nodes</span>
<span class="t" id="t8" style="top:119.84px;font-size:25px;color:#343741;font-weight:700;left:338.33px;-webkit-text-stroke:0.45px #343741;">3</span>
<span class="t" id="t9" style="top:95.84px;font-size:12px;color:#343741;font-weight:700;letter-spacing:0.181px;left:487.07px;">Pods</span>
<span class="t" id="t10" style="top:119.84px;font-size:25px;color:#343741;font-weight:700;left:488.08px;-webkit-text-stroke:0.45px #343741;">9</span>
<span class="t" id="t11" style="top:95.84px;font-size:12px;color:#343741;font-weight:700;letter-spacing:0.252px;left:637.35px;">Container Images</span>
<span class="t" id="t12" style="top:119.84px;font-size:25px;color:#343741;font-weight:700;left:638.33px;-webkit-text-stroke:0.45px #343741;">3</span>
<span class="t" id="t13" style="top:204.84px;font-size:12px;color:#343741;font-weight:700;letter-spacing:0.155px;left:36.74px;">Session Interactivity</span>
<span class="t" id="t14" style="top:233.50px;font-size:12.4px;color:#343741;letter-spacing:0.350px;left:36.84px;">Interactive</span>
<span class="t" id="t15" style="top:233.84px;font-size:12px;color:#343741;font-weight:700;right:779.90px;">0</span>
<span class="t" id="t16" style="top:275.50px;font-size:12.4px;color:#343741;letter-spacing:0.398px;left:36.94px;">Non-interactive</span>
<span class="t" id="t17" style="top:275.84px;font-size:12px;color:#343741;font-weight:700;letter-spacing:0.294px;right:779.70px;">16941</span>
<span class="t" id="t18" style="top:204.84px;font-size:12px;color:#343741;font-weight:700;letter-spacing:0.106px;left:417.74px;">Session Entry Users</span>
<span class="t" id="t19" style="top:233.50px;font-size:12.4px;color:#343741;letter-spacing:-0.058px;left:417.94px;">Root</span>
<span class="t" id="t20" style="top:233.84px;font-size:12px;color:#343741;font-weight:700;letter-spacing:0.280px;right:398.71px;">16945</span>
<span class="t" id="t21" style="top:275.50px;font-size:12.4px;color:#343741;letter-spacing:0.471px;left:417.94px;">Non-root</span>
<span class="t" id="t22" style="top:275.84px;font-size:12px;color:#343741;font-weight:700;right:398.90px;">0</span>
<span class="t" id="t23" style="top:96.84px;font-size:12px;color:#343741;font-weight:700;letter-spacing:0.052px;left:807.35px;">Container images</span>
<span class="t" id="t24" style="top:96.84px;font-size:12px;color:#343741;font-weight:700;letter-spacing:-0.132px;left:1010.48px;">Session ...</span>
<span class="t" id="t25" style="top:130.50px;font-size:12.4px;color:#343741;letter-spacing:0.320px;left:807.35px;">gke.gcr.io/csi-node-driver-regi...</span>
<span class="t" id="t26" style="top:130.50px;font-size:12.4px;color:#343741;letter-spacing:0.840px;right:45.05px;">11,040</span>
<span class="t" id="t27" style="top:165.50px;font-size:12.4px;color:#343741;letter-spacing:0.262px;left:807.35px;">docker.io/library/alpine:3.2</span>
<span class="t" id="t28" style="top:165.50px;font-size:12.4px;color:#343741;letter-spacing:0.524px;right:45.35px;">88</span>
<span class="t" id="t29" style="top:200.50px;font-size:12.4px;color:#343741;letter-spacing:0.281px;left:807.35px;">docker.io/library/ubuntu:latest</span>
<span class="t" id="t30" style="top:200.50px;font-size:12.4px;color:#343741;right:45.80px;">1</span>
<span class="t" id="t31" style="top:368.34px;font-size:12px;color:#fff;font-weight:700;letter-spacing:-0.007px;left:-98.91px;width:400px;text-align:center;">Logical view</span>
<span class="t" id="t32" style="top:368.00px;font-size:12.4px;color:#2469c6;letter-spacing:0.263px;left:174.95px;-webkit-text-stroke:0.3px #2469c6;">Infrastructure view</span>
<span class="t" id="t33" style="top:395.70px;font-size:12.4px;color:#69707d;letter-spacing:0.132px;left:37.24px;">Cluster / Namespace / Pod / Container Image</span>
<span class="t" id="t34" style="top:427.53px;font-size:14.5px;color:#343741;letter-spacing:0.140px;left:93.21px;">cluster-1</span>
<span class="t" id="t35" style="top:459.53px;font-size:14.5px;color:#343741;letter-spacing:0.507px;left:117.01px;">kube-system</span>
<span class="t" id="t36" style="top:491.53px;font-size:14.5px;color:#343741;letter-spacing:0.645px;left:140.89px;">pdcsi-node-49t9k</span>
<span class="t" id="t37" style="top:523.53px;font-size:14.5px;color:#343741;letter-spacing:0.397px;left:149.53px;">gke.gcr.io/csi-node-driv...</span>
<span class="t" id="t38" style="top:555.53px;font-size:14.5px;color:#343741;letter-spacing:0.600px;left:140.89px;">pdcsi-node-864sn</span>
<span class="t" id="t39" style="top:587.53px;font-size:14.5px;color:#343741;letter-spacing:0.682px;left:140.89px;">pdcsi-node-tk68q</span>
<span class="t" id="t40" style="top:619.53px;font-size:14.5px;color:#343741;letter-spacing:0.456px;left:117.02px;">production</span>
<span class="t" id="t41" style="top:651.53px;font-size:14.5px;color:#343741;letter-spacing:-0.506px;left:117.24px;">qa</span>
<span class="t" id="t42" style="top:363.15px;font-size:14px;color:#343741;font-weight:700;letter-spacing:0.112px;left:378.51px;">cluster-1</span>
<span class="t" id="t43" style="top:412.50px;font-size:12.4px;color:#343741;letter-spacing:0.100px;left:386.57px;-webkit-text-stroke:0.3px #343741;">Columns</span>
<span class="t" id="t44" style="top:412.84px;font-size:12px;color:#343741;font-weight:700;letter-spacing:0.086px;left:474.95px;">2 fields sorted</span>
<span class="t" id="t45" style="top:412.84px;font-size:12px;color:#343741;font-weight:700;letter-spacing:0.030px;left:568.08px;">11,229 sessions</span>
<span class="t" id="t46" style="top:412.50px;font-size:12.4px;color:#343741;letter-spacing:0.145px;left:710.57px;-webkit-text-stroke:0.3px #343741;">Fields</span>
<span class="t" id="t47" style="top:443.84px;font-size:12px;color:#343741;font-weight:700;letter-spacing:0.091px;left:364.15px;">Actions</span>
<span class="t" id="t48" style="top:443.84px;font-size:12px;color:#343741;font-weight:700;letter-spacing:0.293px;left:536.07px;">Date connected</span>
<span class="t" id="t49" style="top:443.84px;font-size:12px;color:#343741;font-weight:700;letter-spacing:0.001px;left:706.46px;">Session e...</span>
<span class="t" id="t50" style="top:443.84px;font-size:12px;color:#343741;font-weight:700;letter-spacing:-0.003px;left:806.24px;">Session le...</span>
<span class="t" id="t51" style="top:443.84px;font-size:12px;color:#343741;font-weight:700;letter-spacing:0.299px;left:906.21px;">Node</span>
<span class="t" id="t52" style="top:443.84px;font-size:12px;color:#343741;font-weight:700;letter-spacing:0.241px;left:1006.19px;">Entry type</span>
<span class="t" id="t53" style="top:472.50px;font-size:12.4px;color:#343741;letter-spacing:0.437px;left:515.82px;">Jul 29, 2022 @ 15:40:53.330</span>
<span class="t" id="t54" style="top:472.50px;font-size:12.4px;color:#343741;letter-spacing:0.244px;left:706.31px;">root</span>
<span class="t" id="t55" style="top:472.50px;font-size:12.4px;color:#343741;letter-spacing:0.435px;left:806.53px;">/csi-node-dri...</span>
<span class="t" id="t56" style="top:472.50px;font-size:12.4px;color:#343741;letter-spacing:0.380px;left:906.49px;">gke-cluster-...</span>
<span class="t" id="t57" style="top:472.50px;font-size:12.4px;color:#343741;letter-spacing:0.231px;left:1006.34px;">container</span>
<span class="t" id="t58" style="top:774.80px;font-size:12.4px;color:#343741;letter-spacing:0.043px;left:366.22px;-webkit-text-stroke:0.3px #343741;">Rows per page: 10</span>
<span class="t" id="t59" style="top:773.30px;font-size:15px;color:#2469c6;font-weight:700;left:935.71px;text-decoration:underline;">1</span>
<span class="t" id="t60" style="top:773.30px;font-size:15px;color:#343741;left:959.08px;">2</span>
<span class="t" id="t61" style="top:773.30px;font-size:15px;color:#343741;left:983.75px;">3</span>
<span class="t" id="t62" style="top:773.30px;font-size:15px;color:#343741;left:1008.84px;">4</span>
<span class="t" id="t63" style="top:773.30px;font-size:15px;color:#343741;left:1033.70px;">5</span>
<span class="t" id="t64" style="top:775.50px;font-size:12.4px;color:#a2aec8;letter-spacing:0.951px;left:1058.04px;">...</span>
<div class="bd" style="left:339px;top:13.399999999999999px"><span class="dg one" style="left:16px;top:7.7px;transform:scaleX(1.15)">1</span></div>
<div class="bd" style="left:11px;top:302.5px"><span class="dg" style="left:16.8px;top:6.6px;transform:scaleX(1.025)">2</span></div>
<div class="bd" style="left:455px;top:306.5px"><span class="dg" style="left:18.4px;top:7px;transform:scaleX(0.96)">3</span></div>
<div id="fade"></div><div id="frame"></div>
</body></html>
